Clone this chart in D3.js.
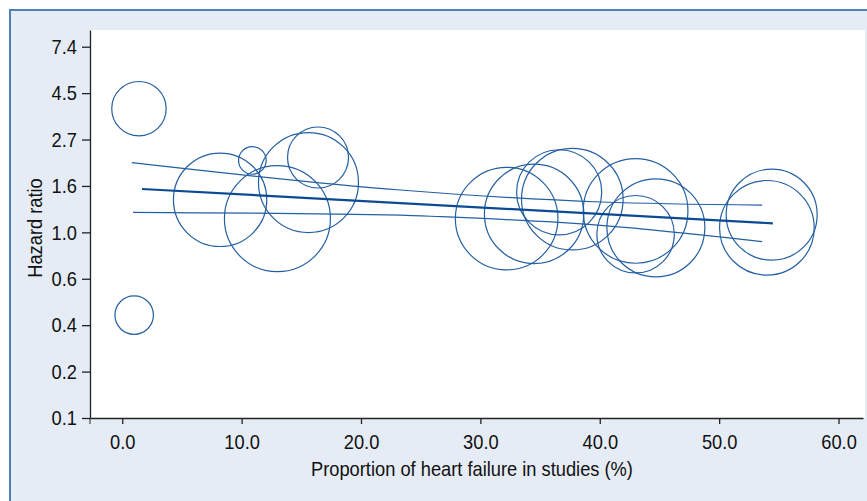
<!DOCTYPE html>
<html>
<head>
<meta charset="utf-8">
<script src="https://cdn.jsdelivr.net/npm/d3@7"></script>
<style>
body { margin: 0; background: #fff; }
text { font-family: "Liberation Sans", Arial, sans-serif; }
</style>
</head>
<body>
<div id="chart"></div>
<script>
//Studies: proportion of heart failure (%), hazard ratio, study weight
var studyPct = [1.4, 1.0, 8.2, 10.9, 13.0, 15.6, 16.4, 32.2, 34.5, 36.6, 37.7, 43.0, 43.0, 44.7, 54.4, 54.0];
var studyHR = [3.79, 0.41, 1.42, 2.17, 1.16, 1.71, 2.24, 1.16, 1.22, 1.54, 1.43, 1.26, 0.98, 1.05, 1.21, 1.05];
var studyWeight = [7.4, 3.7, 21.8, 1.9, 28.1, 25.0, 9.3, 26.3, 24.7, 18.1, 25.8, 27.4, 15.0, 24.0, 20.7, 22.4];

//Meta-regression line and confidence band
var fitPct = [1.65, 54.5];
var fitHR = [1.595, 1.102];
var upperPct = [0.8, 23.3, 40.1, 53.6];
var upperHR = [2.12, 1.578, 1.387, 1.342];
var lowerPct = [0.9, 23.3, 26.7, 40.1, 53.6];
var lowerHR = [1.241, 1.204, 1.184, 1.078, 0.905];

//Axis ticks
var xTicks = [0, 10, 20, 30, 40, 50, 60];
var yTickLabels = ["0.1", "0.2", "0.4", "0.6", "1.0", "1.6", "2.7", "4.5", "7.4"];
var yTickLogs = [-2, -1.5, -1, -0.5, 0, 0.5, 1, 1.5, 2];

var w = 867;
var h = 501;
var plotLeft = 90, plotRight = 863, plotTop = 30, plotBottom = 418;
var blue = "#245fa2";

var svg = d3.select("#chart")
	.append("svg")
	.attr("width", w)
	.attr("height", h);

//Panel background and frame
svg.append("rect")
	.attr("x", 10)
	.attr("y", 10)
	.attr("width", w + 10)
	.attr("height", h + 10)
	.attr("fill", "#e6ecf5")
	.attr("stroke", "#4f80b6")
	.attr("stroke-width", 2);

svg.append("rect")
	.attr("x", plotLeft)
	.attr("y", plotTop)
	.attr("width", 865 - plotLeft)
	.attr("height", plotBottom - plotTop)
	.attr("fill", "#fff");

var xScale = d3.scaleLinear()
	.domain([-2.7, 62.05])
	.range([plotLeft, plotRight]);

var yScale = d3.scaleLog()
	.domain([Math.exp(-2), Math.exp(2.18)])
	.range([plotBottom, plotTop]);

var rScale = d3.scaleSqrt()
	.domain([0, 30])
	.range([0, Math.sqrt(30) * 10]);

//Study circles
svg.selectAll("circle")
	.data(studyPct)
	.enter()
	.append("circle")
	.attr("cx", function (d) { return xScale(d); })
	.attr("cy", function (d, i) { return yScale(studyHR[i]); })
	.attr("r", function (d, i) { return rScale(studyWeight[i]); })
	.attr("fill", "none")
	.attr("stroke", blue)
	.attr("stroke-width", 1.2);

var line = d3.line()
	.x(function (d) { return xScale(d[0]); })
	.y(function (d) { return yScale(d[1]); })
	.curve(d3.curveMonotoneX);

svg.append("path")
	.attr("d", line(d3.zip(upperPct, upperHR)))
	.attr("fill", "none")
	.attr("stroke", blue)
	.attr("stroke-width", 1.2);

svg.append("path")
	.attr("d", line(d3.zip(lowerPct, lowerHR)))
	.attr("fill", "none")
	.attr("stroke", blue)
	.attr("stroke-width", 1.2);

svg.append("path")
	.attr("d", line(d3.zip(fitPct, fitHR)))
	.attr("fill", "none")
	.attr("stroke", "#0b4a94")
	.attr("stroke-width", 2.2);

//Axes
var xAxis = svg.append("g")
	.attr("transform", "translate(0," + plotBottom + ")")
	.call(d3.axisBottom(xScale)
		.tickValues(xTicks)
		.tickFormat(d3.format(".1f"))
		.tickSize(6)
		.tickSizeOuter(0)
		.tickPadding(10));

xAxis.append("line")
	.attr("x1", plotLeft)
	.attr("x2", plotLeft)
	.attr("y1", 0)
	.attr("y2", 6)
	.attr("stroke", "#222");

var yAxis = svg.append("g")
	.attr("transform", "translate(" + plotLeft + ",0)")
	.call(d3.axisLeft(yScale)
		.tickValues(yTickLogs.map(function (d) { return Math.exp(d); }))
		.tickFormat(function (d, i) { return yTickLabels[i]; })
		.tickSize(8)
		.tickSizeOuter(0)
		.tickPadding(5));

svg.selectAll(".tick text")
	.attr("font-size", "21px")
	.attr("fill", "#111");
svg.selectAll(".domain, .tick line")
	.attr("stroke", "#222")
	.attr("stroke-width", 1.3);
d3.selectAll("g").attr("font-family", null);

//Axis titles
svg.append("text")
	.attr("text-anchor", "middle")
	.attr("x", 472)
	.attr("y", 476)
	.attr("font-size", "21px")
	.attr("fill", "#111")
	.text("Proportion of heart failure in studies (%)");

svg.append("text")
	.attr("text-anchor", "middle")
	.attr("transform", "translate(42,228)rotate(-90)")
	.attr("font-size", "21px")
	.attr("fill", "#111")
	.text("Hazard ratio");

//Narrow the type, like a condensed face
svg.selectAll("text").each(function () {
	var len = this.getComputedTextLength();
	d3.select(this)
		.attr("textLength", len * 0.87)
		.attr("lengthAdjust", "spacingAndGlyphs");
});
</script>
</body>
</html>
